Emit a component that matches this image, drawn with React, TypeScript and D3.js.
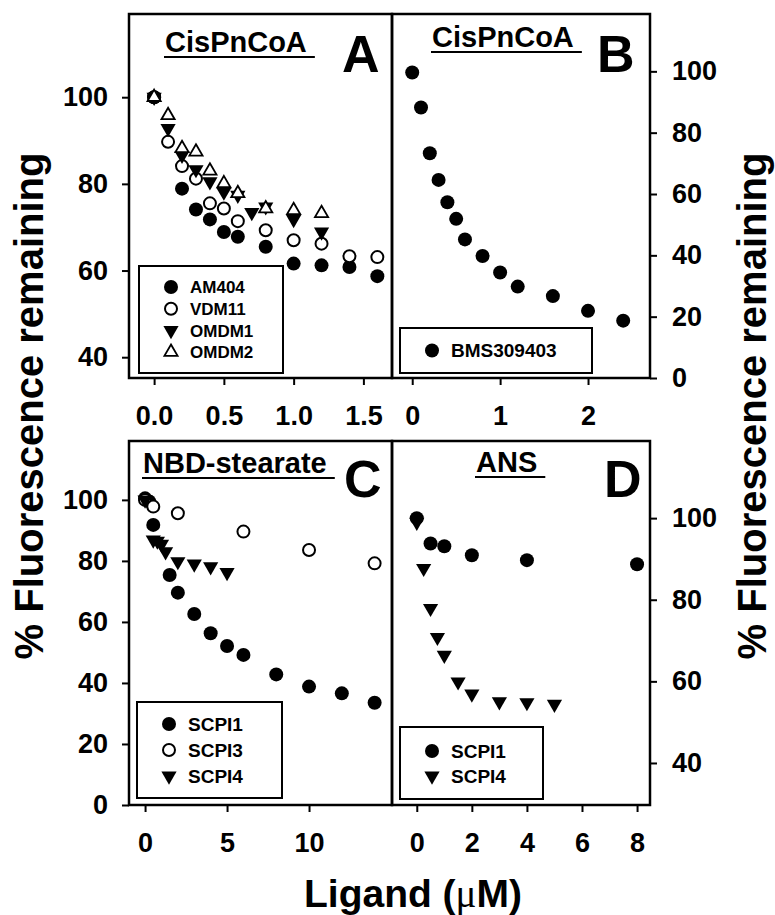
import React, { useEffect, useRef } from 'react';
import * as d3 from 'd3';

// Panel A - CisPnCoA displacement
const am404X = [0, 0.2, 0.3, 0.4, 0.5, 0.6, 0.8, 1.0, 1.2, 1.4, 1.6];
const am404Y = [100, 78.9, 74.1, 71.8, 68.9, 67.8, 65.5, 61.6, 61.2, 60.8, 58.7];
const vdm11X = [0, 0.1, 0.2, 0.3, 0.4, 0.5, 0.6, 0.8, 1.0, 1.2, 1.4, 1.6];
const vdm11Y = [100, 89.7, 84.1, 81.2, 75.5, 74.3, 71.4, 69.3, 67.0, 66.2, 63.3, 63.1];
const omdm1X = [0, 0.1, 0.2, 0.3, 0.4, 0.5, 0.6, 0.7, 0.8, 1.0, 1.2];
const omdm1Y = [100, 92.8, 86.6, 83.3, 80.5, 78.1, 77.4, 73.4, 74.7, 71.8, 68.9];
const omdm2X = [0, 0.1, 0.2, 0.3, 0.4, 0.5, 0.6, 0.8, 1.0, 1.2];
const omdm2Y = [100, 95.8, 88.2, 87.4, 83.0, 80.1, 77.8, 74.3, 73.9, 73.2];

// Panel B - CisPnCoA, BMS309403
const bmsX = [0, 0.1, 0.2, 0.3, 0.4, 0.5, 0.6, 0.8, 1.0, 1.2, 1.6, 2.0, 2.4];
const bmsY = [99.6, 88.2, 73.3, 64.6, 57.3, 51.9, 45.2, 39.8, 34.4, 29.8, 26.7, 21.9, 18.7];

// Panel C - NBD-stearate
const cScpi1X = [0, 0.25, 0.5, 1.5, 2, 3, 4, 5, 6, 8, 10, 12, 14];
const cScpi1Y = [100.5, 99.5, 91.8, 75.4, 69.6, 62.6, 56.3, 52.1, 49.2, 42.8, 38.8, 36.6, 33.5];
const cScpi3X = [0, 0.5, 2, 6, 10, 14];
const cScpi3Y = [100, 97.8, 95.6, 89.6, 83.6, 79.2];
const cScpi4X = [0, 0.5, 0.75, 1.0, 1.25, 2, 3, 4, 5];
const cScpi4Y = [100, 86.9, 86.5, 85.5, 83, 79.8, 79.0, 78.1, 76.2];

// Panel D - ANS
const dScpi1X = [0, 0.5, 1, 2, 4, 8];
const dScpi1Y = [100, 93.8, 93.1, 90.9, 89.7, 88.7];
const dScpi4X = [0, 0.25, 0.5, 0.75, 1, 1.5, 2, 3, 4, 5];
const dScpi4Y = [99, 87.7, 77.9, 70.8, 66.4, 59.9, 56.9, 55.0, 54.8, 54.4];

// ticks
const aXTicks = [0, 0.5, 1.0, 1.5];
const aYTicks = [40, 60, 80, 100];
const bXTicks = [0, 1, 2];
const bYTicks = [0, 20, 40, 60, 80, 100];
const cXTicks = [0, 5, 10];
const cYTicks = [0, 20, 40, 60, 80, 100];
const dXTicks = [0, 2, 4, 6, 8];
const dYTicks = [40, 60, 80, 100];

const FONT = '"Liberation Sans", Arial, Helvetica, sans-serif';

type Shape = 'circle' | 'openCircle' | 'down' | 'openUp';
type Series = { name: string; xs: number[]; ys: number[]; shape: Shape };

const drawMarker = (g: any, shape: Shape, cx: number, cy: number) => {
  if (shape === 'circle') {
    g.append('circle').attr('cx', cx).attr('cy', cy).attr('r', 7).attr('fill', '#000');
  } else if (shape === 'openCircle') {
    g.append('circle').attr('cx', cx).attr('cy', cy).attr('r', 6)
      .attr('fill', '#fff').attr('stroke', '#000').attr('stroke-width', 2);
  } else if (shape === 'down') {
    g.append('path').attr('d', d3.symbol(d3.symbolTriangle, 100)())
      .attr('transform', `translate(${cx},${cy}) rotate(180)`).attr('fill', '#000');
  } else {
    g.append('path').attr('d', d3.symbol(d3.symbolTriangle, 75)())
      .attr('transform', `translate(${cx},${cy})`)
      .attr('fill', '#fff').attr('stroke', '#000').attr('stroke-width', 1.8);
  }
};

const App = () => {
  const ref = useRef<SVGSVGElement>(null);

  useEffect(() => {
    const svg = d3.select(ref.current);
    svg.selectAll('*').remove();

    const panels = [
      {
        letter: 'A', title: 'CisPnCoA',
        left: 129, right: 392, top: 14, bottom: 378,
        xDomain: [-0.18, 1.705], yDomain: [35.2, 119.2],
        xTicks: aXTicks, yTicks: aYTicks, xFmt: d3.format('.1f'), ySide: 'left',
        series: [
          { name: 'AM404', xs: am404X, ys: am404Y, shape: 'circle' },
          { name: 'VDM11', xs: vdm11X, ys: vdm11Y, shape: 'openCircle' },
          { name: 'OMDM1', xs: omdm1X, ys: omdm1Y, shape: 'down' },
          { name: 'OMDM2', xs: omdm2X, ys: omdm2Y, shape: 'openUp' },
        ] as Series[],
        titleX: 165, titleY: 52, letterX: 342, letterY: 72,
        legend: { x: 139, y: 266, w: 144, h: 107, first: 21, step: 21.7, font: 17 },
      },
      {
        letter: 'B', title: 'CisPnCoA',
        left: 392, right: 650, top: 14, bottom: 378,
        xDomain: [-0.23, 2.705], yDomain: [0, 118.7],
        xTicks: bXTicks, yTicks: bYTicks, xFmt: d3.format('d'), ySide: 'right',
        series: [
          { name: 'BMS309403', xs: bmsX, ys: bmsY, shape: 'circle' },
        ] as Series[],
        titleX: 432, titleY: 47, letterX: 597, letterY: 72,
        legend: { x: 400, y: 328, w: 192, h: 45, first: 22.5, step: 0, font: 19 },
      },
      {
        letter: 'C', title: 'NBD-stearate',
        left: 129, right: 392, top: 441, bottom: 805,
        xDomain: [-0.98, 15.06], yDomain: [0, 119.3],
        xTicks: cXTicks, yTicks: cYTicks, xFmt: d3.format('d'), ySide: 'left',
        series: [
          { name: 'SCPI1', xs: cScpi1X, ys: cScpi1Y, shape: 'circle' },
          { name: 'SCPI3', xs: cScpi3X, ys: cScpi3Y, shape: 'openCircle' },
          { name: 'SCPI4', xs: cScpi4X, ys: cScpi4Y, shape: 'down' },
        ] as Series[],
        titleX: 143, titleY: 473, letterX: 344, letterY: 497,
        legend: { x: 137, y: 702, w: 145, h: 96, first: 22, step: 26, font: 19 },
      },
      {
        letter: 'D', title: 'ANS',
        left: 392, right: 650, top: 441, bottom: 805,
        xDomain: [-0.9, 8.47], yDomain: [29.7, 118.9],
        xTicks: dXTicks, yTicks: dYTicks, xFmt: d3.format('d'), ySide: 'right',
        series: [
          { name: 'SCPI1', xs: dScpi1X, ys: dScpi1Y, shape: 'circle' },
          { name: 'SCPI4', xs: dScpi4X, ys: dScpi4Y, shape: 'down' },
        ] as Series[],
        titleX: 476, titleY: 472, letterX: 604, letterY: 497,
        legend: { x: 400, y: 727, w: 143, h: 72, first: 24, step: 25, font: 19 },
      },
    ];

    panels.forEach((p) => {
      const x = d3.scaleLinear().domain(p.xDomain).range([p.left, p.right]);
      const y = d3.scaleLinear().domain(p.yDomain).range([p.bottom, p.top]);
      const g = svg.append('g');

      // axes
      const xAxis = g.append('g').attr('transform', `translate(0,${p.bottom})`)
        .call(d3.axisBottom(x).tickValues(p.xTicks).tickFormat(p.xFmt as any).tickSize(7).tickPadding(21));
      const yAxis = p.ySide === 'left'
        ? g.append('g').attr('transform', `translate(${p.left},0)`)
            .call(d3.axisLeft(y).tickValues(p.yTicks).tickSize(7).tickPadding(14))
        : g.append('g').attr('transform', `translate(${p.right},0)`)
            .call(d3.axisRight(y).tickValues(p.yTicks).tickSize(7).tickPadding(15));
      [xAxis, yAxis].forEach((a) => {
        a.select('.domain').remove();
        a.selectAll('line').attr('stroke', '#000').attr('stroke-width', 2);
        a.selectAll('text').attr('font-family', FONT).attr('font-weight', 'bold')
          .attr('font-size', 27).attr('fill', '#000');
      });

      // frame
      g.append('rect').attr('x', p.left).attr('y', p.top)
        .attr('width', p.right - p.left).attr('height', p.bottom - p.top)
        .attr('fill', 'none').attr('stroke', '#000').attr('stroke-width', 2.5);

      // points
      const pts = g.append('g');
      p.series.forEach((s) => {
        s.xs.forEach((xv, i) => drawMarker(pts, s.shape, x(xv), y(s.ys[i])));
      });

      // legend
      const L = p.legend;
      const lg = g.append('g');
      lg.append('rect').attr('x', L.x).attr('y', L.y).attr('width', L.w).attr('height', L.h)
        .attr('fill', '#fff').attr('stroke', '#000').attr('stroke-width', 2);
      p.series.forEach((s, i) => {
        const ry = L.y + L.first + i * L.step;
        drawMarker(lg, s.shape, L.x + 32, ry);
        lg.append('text').attr('x', L.x + 51).attr('y', ry + L.font * 0.36)
          .attr('font-family', FONT).attr('font-weight', 'bold').attr('font-size', L.font)
          .text(s.name);
      });

      // underlined title
      const t = g.append('text').attr('x', p.titleX).attr('y', p.titleY)
        .attr('font-family', FONT).attr('font-weight', 'bold').attr('font-size', 29)
        .text(p.title);
      const tw = (t.node() as SVGTextElement).getComputedTextLength() + 29 * 0.278;
      g.append('line').attr('x1', p.titleX - 1).attr('x2', p.titleX + tw)
        .attr('y1', p.titleY + 5).attr('y2', p.titleY + 5)
        .attr('stroke', '#000').attr('stroke-width', 2.2);

      // panel letter
      g.append('text').attr('x', p.letterX).attr('y', p.letterY)
        .attr('font-family', FONT).attr('font-weight', 'bold').attr('font-size', 52)
        .text(p.letter);
    });

    // axis titles
    const yLab = (tx: number) => svg.append('text')
      .attr('transform', `translate(${tx},406) rotate(-90)`)
      .attr('text-anchor', 'middle').attr('font-family', FONT).attr('font-weight', 'bold')
      .attr('font-size', 40).text('% Fluorescence remaining');
    yLab(43);
    yLab(766);

    const xl = svg.append('text').attr('x', 413).attr('y', 907).attr('text-anchor', 'middle')
      .attr('font-family', FONT).attr('font-weight', 'bold').attr('font-size', 39);
    xl.append('tspan').text('Ligand (');
    xl.append('tspan').attr('font-family', '"Liberation Serif", "DejaVu Serif", serif')
      .attr('font-weight', 'normal').text('\u03BC');
    xl.append('tspan').text('M)');
  }, []);

  return (
    <svg ref={ref} width={775} height={915}
      style={{ position: 'absolute', left: 0, top: 0, background: '#fff' }} />
  );
};

export default App;
